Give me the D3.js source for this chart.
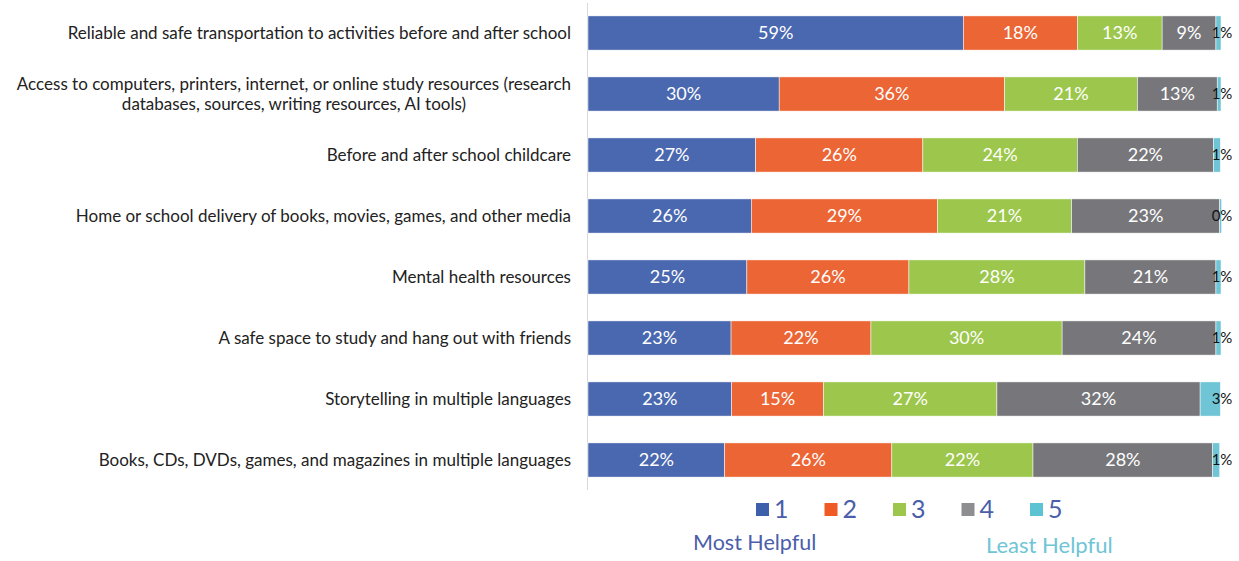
<!DOCTYPE html>
<html>
<head>
<meta charset="utf-8">
<script src="https://cdn.jsdelivr.net/npm/d3@7"></script>
<style>
  body { margin: 0; background: #fff; }
  text { font-family: Lato, "Open Sans", sans-serif; }
</style>
</head>
<body>
<svg width="1239" height="561"></svg>
<script>
// categories, top to bottom
var categories = [
  ["Reliable and safe transportation to activities before and after school"],
  ["Access to computers, printers, internet, or online study resources (research", "databases, sources, writing resources, AI tools)"],
  ["Before and after school childcare"],
  ["Home or school delivery of books, movies, games, and other media"],
  ["Mental health resources"],
  ["A safe space to study and hang out with friends"],
  ["Storytelling in multiple languages"],
  ["Books, CDs, DVDs, games, and magazines in multiple languages"]
];

// share of answers per rating (1 = most helpful ... 5 = least helpful)
var rating1 = [59.3, 30.2, 26.5, 25.8, 25.1, 22.6, 22.7, 21.6];
var rating2 = [18.0, 35.6, 26.4, 29.4, 25.6, 22.1, 14.5, 26.4];
var rating3 = [13.4, 21.0, 24.4, 21.2, 27.8, 30.2, 27.4, 22.3];
var rating4 = [8.5, 12.6, 21.5, 23.4, 20.7, 24.3, 32.1, 28.4];
var rating5 = [0.8, 0.6, 1.1, 0.3, 0.8, 0.8, 3.2, 1.1];

var seriesNames = ["1", "2", "3", "4", "5"];
var barColors = ["#4a68b0", "#ec6535", "#9cc74c", "#77777b", "#6fc5d5"];
var legendColors = ["#3e5fa9", "#f05b25", "#9cc74c", "#8e8e91", "#5cc3d3"];

var svg = d3.select("svg");

var rows = categories.map(function (c, i) {
  return { key: i, r1: rating1[i], r2: rating2[i], r3: rating3[i], r4: rating4[i], r5: rating5[i] };
});
var keys = ["r1", "r2", "r3", "r4", "r5"];

var x = d3.scaleLinear().domain([0, 100]).range([588, 1221]);
var y = d3.scaleBand().domain(d3.range(categories.length)).range([2.5, 490.5]).paddingInner(0.44).paddingOuter(0.22);

var stacked = d3.stack().keys(keys)(rows);

// vertical axis line
svg.append("line")
  .attr("x1", 587.5).attr("x2", 587.5)
  .attr("y1", 3).attr("y2", 490)
  .style("stroke", "#d9d9d9").style("stroke-width", "1px");

var layers = svg.append("g").selectAll("g")
  .data(stacked)
  .enter()
  .append("g")
  .style("fill", function (d, i) { return barColors[i]; });

layers.selectAll("rect")
  .data(function (d) { return d; })
  .enter()
  .append("rect")
  .attr("x", function (d) { return x(d[0]); })
  .attr("y", function (d, i) { return y(i); })
  .attr("width", function (d) { return x(d[1]) - x(d[0]); })
  .attr("height", y.bandwidth())
  .style("stroke", "#fff")
  .style("stroke-width", "0.5px");

// value labels
layers.each(function (layer, li) {
  d3.select(this).selectAll("text")
    .data(layer)
    .enter()
    .append("text")
    .attr("x", function (d) { return li === 4 ? x(100) + 1 : (x(d[0]) + x(d[1])) / 2; })
    .attr("y", function (d, i) { return y(i) + y.bandwidth() / 2; })
    .attr("dy", "0.36em")
    .style("text-anchor", "middle")
    .style("font-size", li === 4 ? "15px" : "18px")
    .style("fill", li === 4 ? "#111" : "#fff")
    .text(function (d) { return Math.round(d[1] - d[0]) + "%"; });
});

// category labels (two-line label is centred on its first line)
svg.append("g").selectAll("text")
  .data(categories)
  .enter()
  .append("text")
  .attr("x", 571)
  .attr("y", function (d, i) { return y(i) + y.bandwidth() / 2; })
  .style("text-anchor", "end")
  .style("font-size", "17px")
  .style("fill", "#222")
  .each(function (d) {
    var t = d3.select(this);
    var first = t.append("tspan").attr("x", 571)
      .attr("dy", d.length === 1 ? "0.36em" : "-0.26em")
      .text(d[0]);
    if (d.length > 1) {
      var w = first.node().getComputedTextLength();
      t.append("tspan")
        .attr("x", 571 - w / 2)
        .attr("dy", "1.2em")
        .style("text-anchor", "middle")
        .text(d[1]);
    }
  });

// legend
var legend = svg.append("g").attr("transform", "translate(756, 503)")
  .selectAll("g")
  .data(seriesNames)
  .enter()
  .append("g")
  .attr("transform", function (d, i) { return "translate(" + (i * 68.5) + ", 0)"; });

legend.append("rect")
  .attr("width", 13).attr("height", 13)
  .style("fill", function (d, i) { return legendColors[i]; });

legend.append("text")
  .attr("x", 18).attr("y", 15)
  .style("font-size", "25px")
  .style("fill", "#4b5eaa")
  .text(function (d) { return d; });

svg.append("text")
  .attr("x", 693).attr("y", 550)
  .style("font-size", "21.5px")
  .style("fill", "#4b5eaa")
  .text("Most Helpful");

svg.append("text")
  .attr("x", 986).attr("y", 553)
  .style("font-size", "22px")
  .style("fill", "#6fc5d5")
  .text("Least Helpful");
</script>
</body>
</html>
